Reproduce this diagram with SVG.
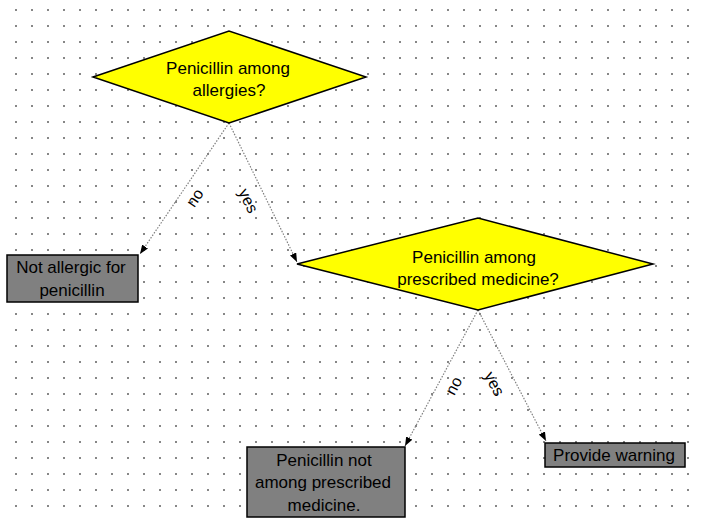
<svg xmlns="http://www.w3.org/2000/svg" width="704" height="520" viewBox="0 0 704 520">
  <defs>
    <pattern id="grid" x="8" y="2" width="16" height="16" patternUnits="userSpaceOnUse">
      <rect x="7.2" y="7.2" width="1.6" height="1.6" fill="#444"/>
    </pattern>
    <marker id="arrow" viewBox="0 0 9 7" refX="9" refY="3.5" markerWidth="9" markerHeight="7" markerUnits="userSpaceOnUse" orient="auto">
      <path d="M0,0 L9,3.5 L0,7 Z" fill="#000"/>
    </marker>
    <style>
      .decision { fill: #ffff00; stroke: #000; stroke-width: 1.5; }
      .action { fill: #808080; stroke: #000; stroke-width: 1.5; }
      .txt { font-family: "Liberation Sans", Arial, sans-serif; font-size: 17px; fill: #000; text-anchor: middle; }
      .edge { fill: none; stroke: #808080; stroke-width: 1.2; stroke-dasharray: 1.5 1.5; marker-end: url(#arrow); }
      .lbl { font-family: "Liberation Sans", Arial, sans-serif; font-size: 16px; fill: #000; text-anchor: middle; }
    </style>
  </defs>

  <rect width="704" height="520" fill="#fff"/>
  <rect x="8" y="2" width="688" height="512" fill="url(#grid)"/>

  <g id="connectors">
    <line class="edge" x1="229" y1="123" x2="140" y2="254"/>
    <line class="edge" x1="229" y1="123" x2="297" y2="262"/>
    <line class="edge" x1="478" y1="310" x2="405" y2="446"/>
    <line class="edge" x1="478" y1="310" x2="546" y2="441"/>
    <text class="lbl" transform="translate(195,198) rotate(-56)" y="5">no</text>
    <text class="lbl" transform="translate(248,201) rotate(63.6)" y="5">yes</text>
    <text class="lbl" transform="translate(454,386) rotate(-62)" y="5">no</text>
    <text class="lbl" transform="translate(494,384) rotate(62)" y="5">yes</text>
  </g>

  <g id="q-allergies">
    <polygon class="decision" points="93,77 229,31 366,77 229,123"/>
    <text class="txt" x="228" y="74">Penicillin among</text>
    <text class="txt" x="229" y="96">allergies?</text>
  </g>

  <g id="not-allergic">
    <rect class="action" x="7" y="255" width="131" height="47"/>
    <text class="txt" x="71" y="273">Not allergic for</text>
    <text class="txt" x="72" y="296">penicillin</text>
  </g>

  <g id="q-prescribed">
    <polygon class="decision" points="297,264 478,218 653,264 478,310"/>
    <text class="txt" x="474" y="263">Penicillin among</text>
    <text class="txt" x="478" y="285">prescribed medicine?</text>
  </g>

  <g id="not-prescribed">
    <rect class="action" x="247" y="447" width="158" height="70"/>
    <text class="txt" x="324" y="466">Penicillin not</text>
    <text class="txt" x="323" y="488">among prescribed</text>
    <text class="txt" x="324" y="511">medicine.</text>
  </g>

  <g id="warning">
    <rect class="action" x="545" y="443" width="140" height="24"/>
    <text class="txt" x="614" y="461">Provide warning</text>
  </g>
</svg>
